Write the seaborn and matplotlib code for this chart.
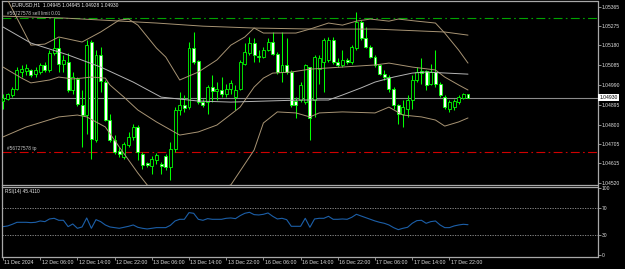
import matplotlib
matplotlib.use("Agg")
import matplotlib.pyplot as plt
import matplotlib.transforms as mtransforms
import numpy as np
import pandas as pd
import seaborn as sns

# ---------------- data ----------------
opens = [1.04912, 1.04922, 1.04944, 1.04973, 1.05053, 1.05058, 1.05061, 1.05042, 1.05053, 1.05088,
         1.05061, 1.05141, 1.05165, 1.05090, 1.05101, 1.04968, 1.05021, 1.04893, 1.04845, 1.05197,
         1.04728, 1.05133, 1.05005, 1.04824, 1.04725, 1.04674, 1.04645, 1.04701, 1.04741, 1.04789,
         1.04661, 1.04616, 1.04600, 1.04632, 1.04613, 1.04648, 1.04597, 1.04685, 1.04869, 1.04893,
         1.04885, 1.05165, 1.05104, 1.04909, 1.04909, 1.04978, 1.04962, 1.04968, 1.04946, 1.04973,
         1.04933, 1.04973, 1.05093, 1.05141, 1.05192, 1.05131, 1.05122, 1.05157, 1.05197, 1.05138,
         1.05053, 1.05085, 1.05051, 1.04912, 1.04917, 1.04907, 1.05074, 1.04917, 1.05069, 1.05101,
         1.05109, 1.05208, 1.05101, 1.05085, 1.05109, 1.05101, 1.05165, 1.05293, 1.05213, 1.05173,
         1.05125, 1.05085, 1.05045, 1.05029, 1.04973, 1.04893, 1.04853, 1.04877, 1.04917, 1.05013,
         1.05056, 1.05056, 1.04997, 1.05053, 1.04997, 1.04933, 1.04877, 1.04885, 1.04909, 1.04930,
         1.04945]
highs = [1.04949, 1.04952, 1.04978, 1.05077, 1.05085, 1.05093, 1.05069, 1.05077, 1.05096, 1.05101,
         1.05157, 1.05309, 1.05213, 1.05133, 1.05141, 1.05053, 1.05029, 1.04965, 1.05205, 1.05205,
         1.05157, 1.05173, 1.05013, 1.04853, 1.04749, 1.04693, 1.04717, 1.04765, 1.04805, 1.04797,
         1.04669, 1.04621, 1.04648, 1.04664, 1.04621, 1.04661, 1.04717, 1.04885, 1.04957, 1.04941,
         1.05197, 1.05245, 1.05109, 1.04925, 1.04989, 1.05037, 1.05005, 1.05029, 1.04997, 1.05013,
         1.04989, 1.05109, 1.05189, 1.05221, 1.05213, 1.05157, 1.05173, 1.05213, 1.05245, 1.05149,
         1.05245, 1.05213, 1.05061, 1.04931, 1.05003, 1.05093, 1.05077, 1.05133, 1.05133, 1.05215,
         1.05221, 1.05221, 1.05117, 1.05157, 1.05117, 1.05181, 1.05341, 1.05301, 1.05269, 1.05181,
         1.05133, 1.05093, 1.05061, 1.05037, 1.04981, 1.04901, 1.04917, 1.04941, 1.05037, 1.05077,
         1.05117, 1.05061, 1.05093, 1.05157, 1.05005, 1.04941, 1.04917, 1.04925, 1.04941, 1.04952,
         1.04945]
lows = [1.04877, 1.04917, 1.04933, 1.04965, 1.05029, 1.05037, 1.05029, 1.05029, 1.05045, 1.05053,
        1.05053, 1.05133, 1.05053, 1.05053, 1.04957, 1.04949, 1.04888, 1.04693, 1.04757, 1.04637,
        1.04717, 1.04957, 1.04818, 1.04717, 1.04661, 1.04645, 1.04637, 1.04693, 1.04725, 1.04629,
        1.04589, 1.04597, 1.04565, 1.04613, 1.04565, 1.04581, 1.04533, 1.04669, 1.04845, 1.04861,
        1.04877, 1.05093, 1.04901, 1.04885, 1.04853, 1.04909, 1.04917, 1.04933, 1.04933, 1.04949,
        1.04869, 1.04965, 1.05085, 1.05133, 1.05101, 1.05101, 1.05117, 1.05154, 1.05133, 1.05045,
        1.05005, 1.05045, 1.04885, 1.04831, 1.04907, 1.04901, 1.04725, 1.04837, 1.04997, 1.04955,
        1.05101, 1.05093, 1.05077, 1.05077, 1.05093, 1.05093, 1.05157, 1.05205, 1.05165, 1.05117,
        1.05077, 1.05037, 1.05013, 1.04957, 1.04877, 1.04805, 1.04789, 1.04837, 1.04877, 1.05005,
        1.04997, 1.04965, 1.04989, 1.04981, 1.04933, 1.04877, 1.04861, 1.04869, 1.04901, 1.04923,
        1.04928]
closes = [1.04928, 1.04946, 1.04973, 1.05061, 1.05069, 1.05072, 1.05037, 1.05061, 1.05088, 1.05061,
          1.05141, 1.05165, 1.05093, 1.05109, 1.04965, 1.05026, 1.04898, 1.04845, 1.05181, 1.04733,
          1.05133, 1.05008, 1.04824, 1.04725, 1.04669, 1.04661, 1.04709, 1.04741, 1.04789, 1.04669,
          1.04605, 1.04605, 1.04637, 1.04653, 1.04602, 1.04597, 1.04685, 1.04869, 1.04893, 1.04882,
          1.05165, 1.05101, 1.04909, 1.04893, 1.04978, 1.04962, 1.04973, 1.04946, 1.04973, 1.05000,
          1.04968, 1.05101, 1.05149, 1.05192, 1.05133, 1.05122, 1.05160, 1.05197, 1.05138, 1.05053,
          1.05088, 1.05053, 1.04893, 1.04893, 1.04989, 1.05085, 1.04831, 1.05125, 1.05117, 1.05205,
          1.05208, 1.05101, 1.05085, 1.05109, 1.05101, 1.05173, 1.05293, 1.05213, 1.05173, 1.05125,
          1.05085, 1.05045, 1.05029, 1.04973, 1.04893, 1.04853, 1.04885, 1.04917, 1.05013, 1.05053,
          1.05048, 1.04989, 1.05053, 1.04997, 1.04941, 1.04885, 1.04909, 1.04912, 1.04933, 1.04946,
          1.04930]
rsi_vals = [42.5, 43.5, 46, 49, 49, 49, 48.5, 49, 51, 50,
            54, 55, 52, 52, 42.5, 46.5, 40, 42, 55.5, 40,
            53, 50, 45, 42, 41, 40, 41.5, 43, 45, 41.5,
            40, 39, 40, 41, 41, 41, 44.5, 51, 53.5, 53.5,
            63.5, 62.5, 53.5, 52, 54.5, 53.5, 53.5, 53.5, 55, 55.5,
            54.5, 59, 62.5, 64, 60.5, 60, 61, 63, 58, 54,
            55, 53, 43, 43, 43, 55, 41.5, 54, 55, 55,
            58, 53.5, 53.5, 54, 53.5, 56.5, 61, 58.5, 56, 53.5,
            51, 49, 47.5, 45, 41, 38, 40, 41.5, 47.5, 51.5,
            52, 47.5, 50, 51, 45, 41, 41, 43.5, 45, 46,
            45.41]

bb_upper_idx = [0, 1, 6, 9, 12, 17, 21, 25, 27, 29, 33, 35, 38, 42, 46, 49, 52, 54, 56, 60, 63,
                66, 70, 73, 76, 79, 83, 85, 89, 93, 95, 98, 100]
bb_upper = [1.05420, 1.05397, 1.05181, 1.05186, 1.05220, 1.05196, 1.05244, 1.05301, 1.05306, 1.05277,
            1.05167, 1.05124, 1.05014, 1.05052, 1.05110, 1.05181, 1.05220, 1.05263, 1.05239, 1.05239,
            1.05239, 1.05258, 1.05287, 1.05277, 1.05296, 1.05306, 1.05296, 1.05306, 1.05296, 1.05287,
            1.05239, 1.05157, 1.05095]
bb_mid_idx = [0, 4, 6, 10, 12, 15, 17, 19, 22, 23, 26, 29, 33, 38, 42, 46, 48, 51, 54, 56, 58,
              62, 66, 73, 80, 83, 88, 93, 95, 98, 100]
bb_mid = [1.05076, 1.05023, 1.05000, 1.05014, 1.05028, 1.05019, 1.05023, 1.05028, 1.05023, 1.04990,
          1.04932, 1.04870, 1.04813, 1.04750, 1.04765, 1.04798, 1.04832, 1.04884, 1.04980, 1.05023,
          1.05047, 1.05052, 1.05066, 1.05076, 1.05086, 1.05095, 1.05076, 1.05062, 1.05028, 1.04990,
          1.04966]
bb_low_idx = [0, 5, 12, 16, 18, 22, 25, 29, 31, 34, 38, 42, 46, 49, 54, 56, 59, 63, 66, 68, 73,
              80, 83, 86, 90, 93, 95, 98, 100]
bb_low = [1.04741, 1.04789, 1.04837, 1.04846, 1.04837, 1.04789, 1.04693, 1.04568, 1.04511, 1.04453,
          1.04487, 1.04477, 1.04487, 1.04511, 1.04678, 1.04808, 1.04861, 1.04856, 1.04837, 1.04856,
          1.04861, 1.04856, 1.04884, 1.04846, 1.04837, 1.04822, 1.04793, 1.04813, 1.04832]
env_idx = [0, 13, 33, 43, 54, 67, 80, 95, 100]
env_upper = [1.05320, 1.05311, 1.05287, 1.05272, 1.05263, 1.05258, 1.05258, 1.05244, 1.05229]
ma_idx = [0, 6, 14, 21, 28, 34, 42, 49, 64, 70, 73, 77, 80, 84, 88, 91, 100]
ma_slow = [1.05268, 1.05191, 1.05134, 1.05076, 1.05004, 1.04932, 1.04913, 1.04908, 1.04918, 1.04918,
           1.04942, 1.04976, 1.05004, 1.05028, 1.05047, 1.05052, 1.05042]

sell_limit = 1.05311
take_profit = 1.04669
last_price = 1.04930

price_ticks = [1.05365, 1.05275, 1.05180, 1.05085, 1.04990, 1.04895, 1.04800, 1.04705, 1.04615, 1.04520]
rsi_ticks = [0, 30, 70, 100]
time_labels = ["11 Dec 2024", "12 Dec 06:00", "12 Dec 14:00", "12 Dec 22:00", "13 Dec 06:00",
               "13 Dec 14:00", "13 Dec 22:00", "16 Dec 06:00", "16 Dec 14:00", "16 Dec 22:00",
               "17 Dec 06:00", "17 Dec 14:00", "17 Dec 22:00"]
time_label_idx = [0, 8, 16, 24, 32, 40, 48, 56, 64, 72, 80, 88, 96]

title_text = "EURUSD,H1  1.04945 1.04945 1.04928 1.04930"
sell_text = "#56727578 sell limit 0.01"
tp_text = "#56727578 tp"
rsi_text = "RSI(14) 45.4110"

# ---------------- style ----------------
sns.set_theme(style="dark")
plt.rcParams['font.family'] = ['Liberation Sans', 'DejaVu Sans']

W, H = 625, 269
fig = plt.figure(figsize=(W / 100, H / 100), dpi=100, facecolor='black')
ax = fig.add_axes([2 / W, (H - 184.5) / H, 595.5 / W, 184 / H])
ax2 = fig.add_axes([2 / W, (H - 256.7) / H, 595.5 / W, 70.2 / H], sharex=ax)

for a in (ax, ax2):
    a.set_facecolor('black')
    a.grid(False)
    for s in a.spines.values():
        s.set_color('#a8a8a8')
        s.set_linewidth(0.9)

df = pd.DataFrame(dict(i=np.arange(len(closes)), o=opens, h=highs, l=lows, c=closes, rsi=rsi_vals))
lime = '#00ff00'

# order / price lines
ax.axhline(sell_limit, color='#00a400', lw=0.8, ls=(0, (8, 3, 1.5, 3)), zorder=1)
ax.axhline(take_profit, color='#d00000', lw=0.8, ls=(0, (8, 3, 1.5, 3)), zorder=1)
ax.axhline(last_price, color='#8c8c8c', lw=0.8, zorder=1)

# candles
ax.vlines(df.i, df.l, df.h, color=lime, linewidth=0.75, zorder=3)
up = df.c >= df.o
dn = ~up
ax.bar(df.i[up], (df.c - df.o)[up], bottom=df.o[up], width=0.64,
       color='black', edgecolor=lime, linewidth=0.6, zorder=4)
ax.bar(df.i[dn], (df.o - df.c)[dn], bottom=df.c[dn], width=0.64,
       color='white', edgecolor=lime, linewidth=0.6, zorder=4)

# indicator lines
tan = '#a89474'
for xs, ys, col in [(bb_upper_idx, bb_upper, tan), (bb_mid_idx, bb_mid, tan),
                    (bb_low_idx, bb_low, tan), (env_idx, env_upper, tan),
                    (ma_idx, ma_slow, '#b4b4b4')]:
    sns.lineplot(x=xs, y=ys, ax=ax, color=col, linewidth=0.7, estimator=None, zorder=5)

ax.set_xlim(-0.215, 127.85)
ax.set_ylim(1.04513, 1.05395)
ax.set_xlabel('')
ax.set_ylabel('')

# price axis on the right
ax.yaxis.tick_right()
ax.set_yticks(price_ticks)
ax.set_yticklabels([f"{p:.5f}" for p in price_ticks])
ax.tick_params(axis='y', which='both', right=True, left=False, length=2, width=0.6,
               colors='#a8a8a8', labelcolor='#e0e0e0', labelsize=3.6, pad=1.0)
ax.tick_params(axis='x', bottom=False, labelbottom=False)

# RSI panel
ax2.axhline(70, color='#9a9a9a', lw=0.6, ls=(0, (1.5, 1.5)))
ax2.axhline(30, color='#9a9a9a', lw=0.6, ls=(0, (1.5, 1.5)))
sns.lineplot(data=df, x='i', y='rsi', ax=ax2, color='#1c5fa8', linewidth=0.8, estimator=None)
ax2.set_ylim(-2.6, 102.7)
ax2.set_xlabel('')
ax2.set_ylabel('')
ax2.yaxis.tick_right()
ax2.set_yticks(rsi_ticks)
ax2.set_yticklabels([str(t) for t in rsi_ticks])
ax2.tick_params(axis='y', right=True, left=False, length=2, width=0.6,
                colors='#a8a8a8', labelcolor='#e0e0e0', labelsize=3.6, pad=1.0)
ax2.set_xticks(time_label_idx)
ax2.set_xticklabels(time_labels)
ax2.tick_params(axis='x', bottom=True, length=2, width=0.6, colors='#a8a8a8',
                labelcolor='#e0e0e0', labelsize=3.8, pad=0.6)
shift = mtransforms.ScaledTranslation(1.5 / 100, 0, fig.dpi_scale_trans)
for lab in ax2.get_xticklabels():
    lab.set_horizontalalignment('left')
    lab.set_transform(lab.get_transform() + shift)

# texts
fig.text(12 / W, 1 - 5 / H, title_text, color='#f0f0f0', fontsize=3.5, va='center', ha='left')
fig.text(7 / W, 1 - 14 / H, sell_text, color='#c8c8c8', fontsize=3.4, va='center', ha='left')
fig.text(7 / W, 1 - 148.5 / H, tp_text, color='#c8c8c8', fontsize=3.4, va='center', ha='left')
fig.text(5 / W, 1 - 191.5 / H, rsi_text, color='#f0f0f0', fontsize=3.4, va='center', ha='left')
fig.text(599.5 / W, 1 - 97.3 / H, f"{last_price:.5f}", color='black', fontsize=3.6,
         va='center', ha='left',
         bbox=dict(facecolor='white', edgecolor='none', boxstyle='square,pad=0.25'))

fig.savefig('out.png', dpi=100, facecolor='black')
